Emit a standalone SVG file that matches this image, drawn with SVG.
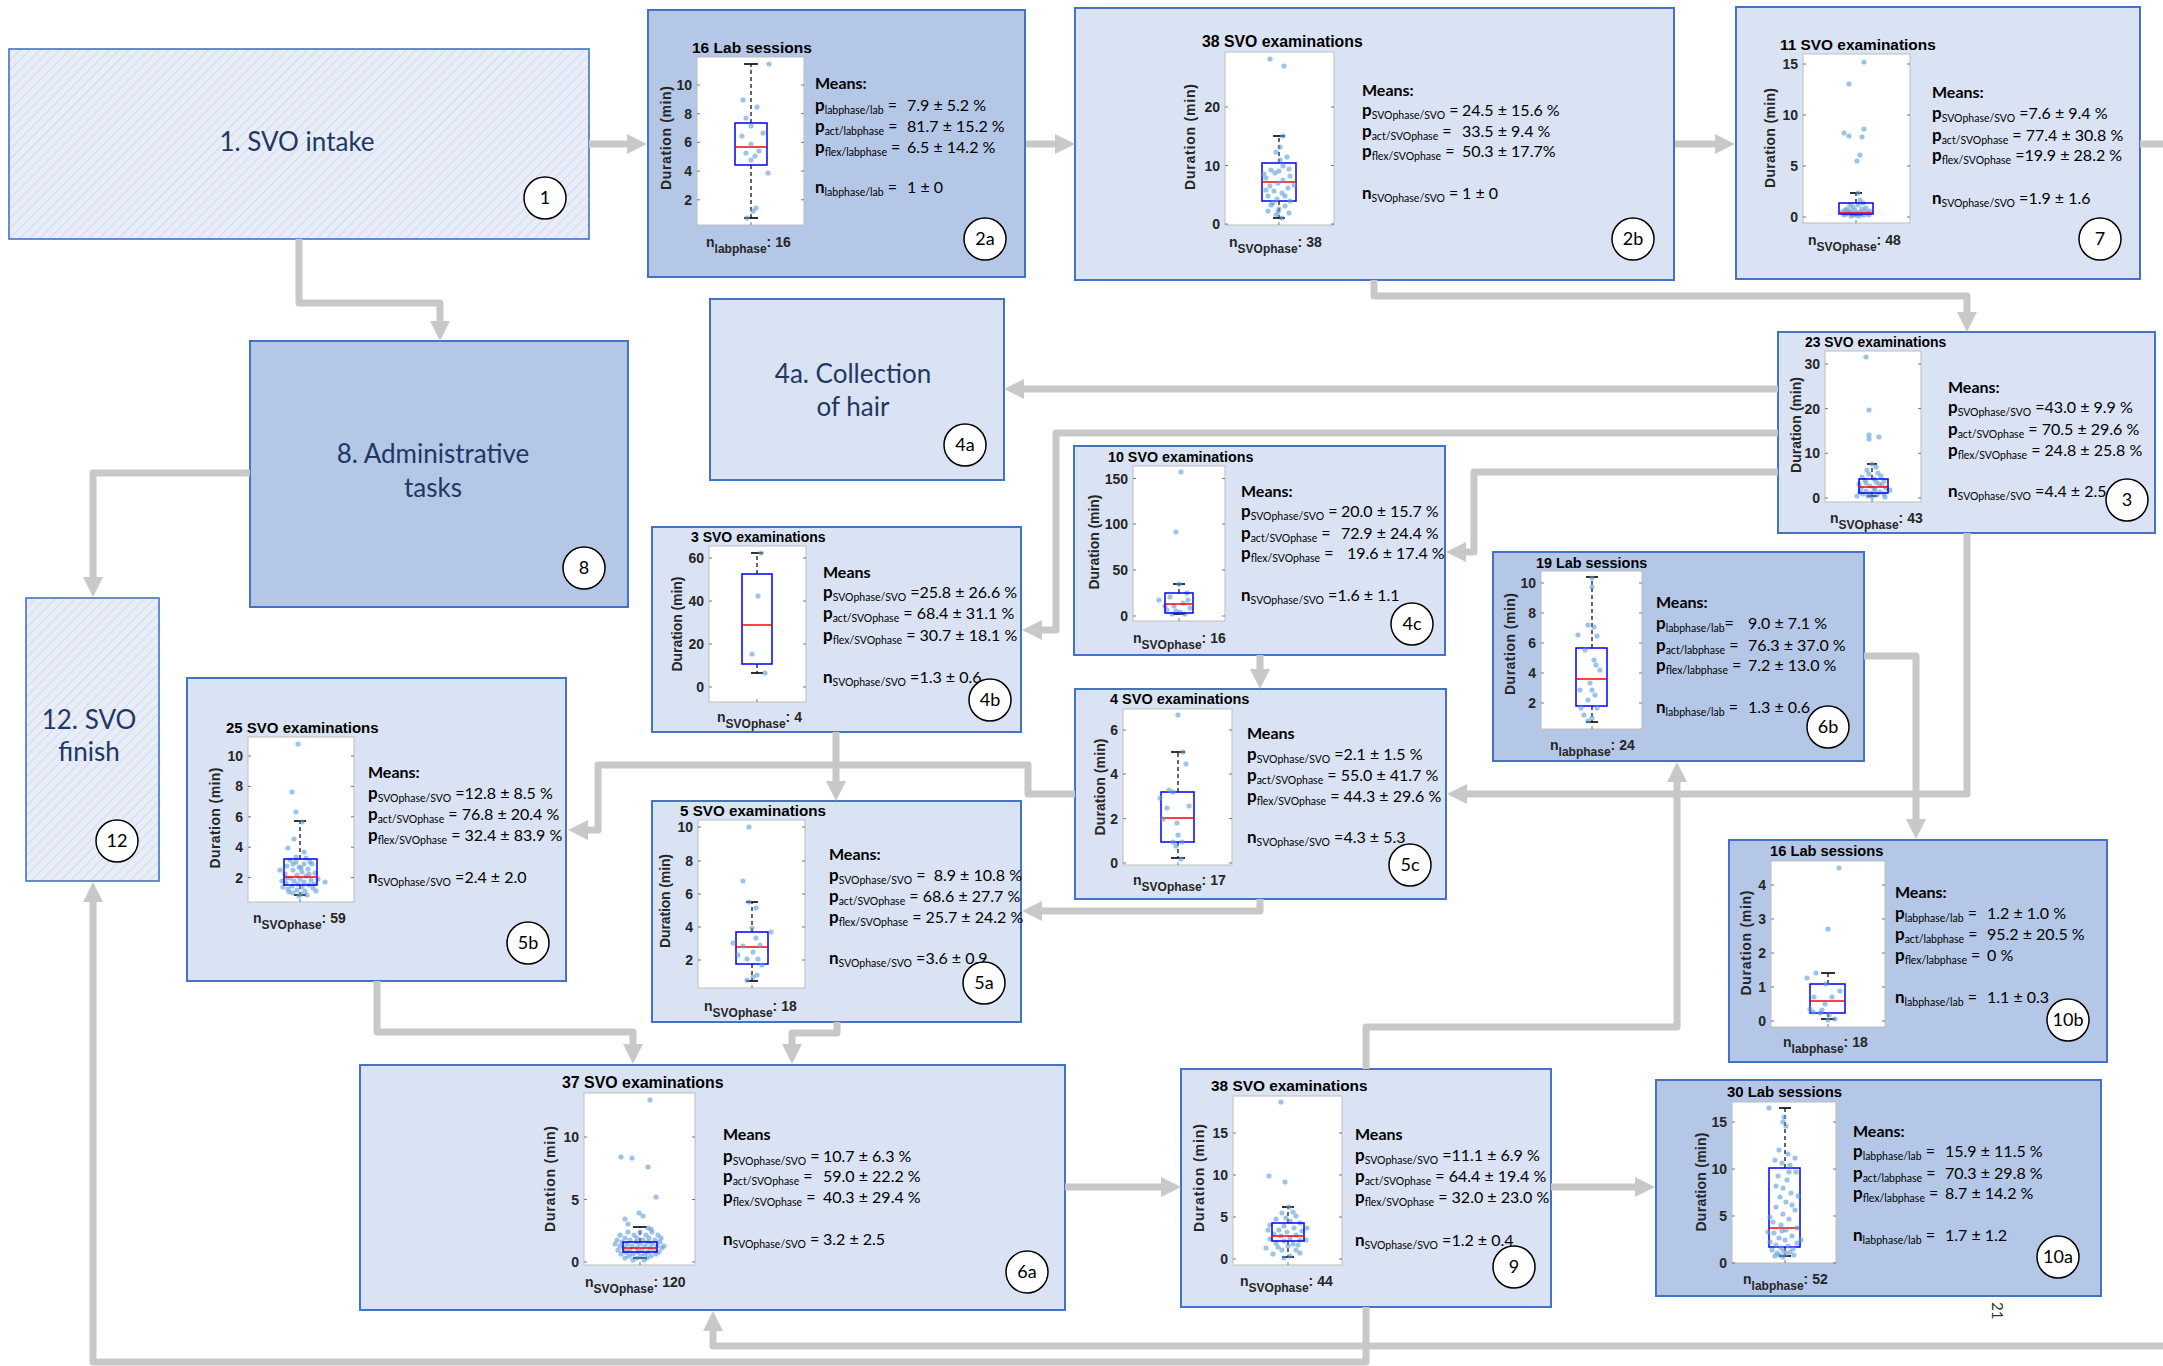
<svg xmlns="http://www.w3.org/2000/svg" width="2163" height="1366" viewBox="0 0 2163 1366">
<defs>
<pattern id="hatch" patternUnits="userSpaceOnUse" width="7" height="7" patternTransform="rotate(45)"><rect width="7" height="7" fill="#E8EDF7"/><line x1="0.5" y1="0" x2="0.5" y2="7" stroke="#D3DCEE" stroke-width="1.2"/></pattern>
<marker id="ah" markerUnits="userSpaceOnUse" markerWidth="20" markerHeight="20" refX="8" refY="10" orient="auto" viewBox="0 0 20 20"><path d="M0,0L20,10L0,20z" fill="#C8C8C8"/></marker>
<style>
.nd1{fill:#B4C7E7;stroke:#4472C4;stroke-width:2}
.nd2{fill:#DAE3F3;stroke:#4472C4;stroke-width:2}
.hat{fill:url(#hatch);stroke:#4472C4;stroke-width:1.6}
.big{font-family:Lato,"Liberation Sans",sans-serif;font-size:26px;fill:#1F3864;text-anchor:middle}
.cir{fill:#fff;stroke:#000;stroke-width:1.5}
.cl{font-family:Lato,"Liberation Sans",sans-serif;font-size:18px;fill:#000;text-anchor:middle}
.plot{fill:#fff;stroke:#BDBDBD;stroke-width:1}
.tm{stroke:#555;stroke-width:0.8;fill:none}
.tk{font-family:"Liberation Sans",Arial,sans-serif;font-weight:bold;font-size:14px;fill:#262626;text-anchor:end}
.ttl{font-family:"Liberation Sans",Arial,sans-serif;font-weight:bold;fill:#000}
.yl{font-family:"Liberation Sans",Arial,sans-serif;font-weight:bold;font-size:14px;fill:#262626;text-anchor:middle}
.nx{font-family:"Liberation Sans",Arial,sans-serif;font-weight:bold;font-size:14px;fill:#262626}
.ns{font-size:12px}
.m{font-family:Lato,"Liberation Sans",sans-serif;font-size:16px;fill:#000}
.mb{font-weight:bold}
.p{font-weight:bold;font-size:17px}
.s{font-size:10.5px}
.bx{fill:none;stroke:#0000FF;stroke-width:1.5}
.med{stroke:#FF0000;stroke-width:1.5}
.wh{stroke:#000;stroke-width:1.2;stroke-dasharray:4 3}
.cap{stroke:#000;stroke-width:1.6}
.dt{fill:#5B9BD5;fill-opacity:0.6}
.conn{fill:none;stroke:#C8C8C8;stroke-width:7;stroke-linejoin:round}
</style>
</defs>
<rect width="2163" height="1366" fill="#fff"/>

<!-- Node 1 -->
<g id="node1">
<rect class="hat" x="9" y="49" width="580" height="190"/>
<text class="big" x="297" y="151">1. SVO intake</text>
<circle class="cir" cx="545" cy="198" r="21"/><text class="cl" x="545" y="204">1</text>
</g>

<!-- Node 2a -->
<g id="node2a">
<rect class="nd1" x="648" y="10" width="377" height="267"/>
<text class="ttl" x="692" y="53" font-size="15.5">16 Lab sessions</text>
<rect class="plot" x="697" y="57" width="107" height="168"/>
<path class="tm" d="M697,199.8h3M697,171.1h3M697,142.4h3M697,113.7h3M697,85h3M804,199.8h-3M804,171.1h-3M804,142.4h-3M804,113.7h-3M804,85h-3M751,225v-3"/>
<g class="tk"><text x="692" y="204.8">2</text><text x="692" y="176.1">4</text><text x="692" y="147.4">6</text><text x="692" y="118.7">8</text><text x="692" y="90">10</text></g>
<text class="yl" transform="translate(671,138) rotate(-90)" textLength="104">Duration (min)</text>
<line class="wh" x1="751" y1="123" x2="751" y2="64"/><line class="wh" x1="751" y1="165" x2="751" y2="218"/>
<line class="cap" x1="744" y1="64" x2="758" y2="64"/><line class="cap" x1="744" y1="218" x2="758" y2="218"/>
<rect class="bx" x="735" y="123" width="32" height="42"/><line class="med" x1="735" y1="147" x2="767" y2="147"/>
<g class="dt"><circle cx="769" cy="64" r="2.6"/><circle cx="743" cy="100" r="2.6"/><circle cx="757" cy="107" r="2.6"/><circle cx="746" cy="118" r="2.6"/><circle cx="751" cy="126" r="2.6"/><circle cx="763" cy="133" r="2.6"/><circle cx="742" cy="136" r="2.6"/><circle cx="751" cy="144" r="2.6"/><circle cx="759" cy="151" r="2.6"/><circle cx="746" cy="153" r="2.6"/><circle cx="755" cy="156" r="2.6"/><circle cx="751" cy="160" r="2.6"/><circle cx="768" cy="173" r="2.6"/><circle cx="756" cy="208" r="2.6"/><circle cx="753" cy="211" r="2.6"/><circle cx="747" cy="218" r="2.6"/></g>
<text class="nx" x="706" y="247">n<tspan class="ns" dy="6">labphase</tspan><tspan dy="-6">: 16</tspan></text>
<text class="m mb" x="815" y="89">Means:</text>
<text class="m" x="815" y="111"><tspan class="p">p</tspan><tspan class="s" dy="3">labphase/lab</tspan><tspan dy="-3"> =</tspan></text>
<text class="m" x="815" y="132"><tspan class="p">p</tspan><tspan class="s" dy="3">act/labphase</tspan><tspan dy="-3"> =</tspan></text>
<text class="m" x="815" y="153"><tspan class="p">p</tspan><tspan class="s" dy="3">flex/labphase</tspan><tspan dy="-3"> =</tspan></text>
<text class="m" x="815" y="193"><tspan class="p">n</tspan><tspan class="s" dy="3">labphase/lab</tspan><tspan dy="-3"> =</tspan></text>
<text class="m" x="907" y="111">7.9 ± 5.2 %</text><text class="m" x="907" y="132">81.7 ± 15.2 %</text><text class="m" x="907" y="153">6.5 ± 14.2 %</text><text class="m" x="907" y="193">1 ± 0</text>
<circle class="cir" cx="985" cy="239" r="21"/><text class="cl" x="985" y="245">2a</text>
</g>

<!-- Node 2b -->
<g id="node2b">
<rect class="nd2" x="1075" y="8" width="599" height="272"/>
<text class="ttl" x="1202" y="47" font-size="15.8">38 SVO examinations</text>
<rect class="plot" x="1225" y="52" width="109" height="173"/>
<path class="tm" d="M1225,224h3M1225,165.5h3M1225,107h3M1334,224h-3M1334,165.5h-3M1334,107h-3M1279,225v-3"/>
<g class="tk"><text x="1220" y="229">0</text><text x="1220" y="170.5">10</text><text x="1220" y="112">20</text></g>
<text class="yl" transform="translate(1195,137) rotate(-90)" textLength="106">Duration (min)</text>
<line class="wh" x1="1279" y1="163" x2="1279" y2="136"/><line class="wh" x1="1279" y1="201" x2="1279" y2="218"/>
<line class="cap" x1="1273" y1="136" x2="1285" y2="136"/><line class="cap" x1="1273" y1="218" x2="1285" y2="218"/>
<rect class="bx" x="1262" y="163" width="34" height="38"/><line class="med" x1="1262" y1="182" x2="1296" y2="182"/>
<g class="dt"><circle cx="1270" cy="59" r="2.6"/><circle cx="1284" cy="66" r="2.6"/><circle cx="1283" cy="136" r="2.6"/><circle cx="1280" cy="147" r="2.6"/><circle cx="1276" cy="152" r="2.6"/><circle cx="1287" cy="157" r="2.6"/><circle cx="1280" cy="160" r="2.6"/><circle cx="1283" cy="166" r="2.6"/><circle cx="1289" cy="169" r="2.6"/><circle cx="1271" cy="170" r="2.6"/><circle cx="1279" cy="171" r="2.6"/><circle cx="1275" cy="173" r="2.6"/><circle cx="1264" cy="174" r="2.6"/><circle cx="1290" cy="176" r="2.6"/><circle cx="1266" cy="178" r="2.6"/><circle cx="1283" cy="180" r="2.6"/><circle cx="1278" cy="183" r="2.6"/><circle cx="1294" cy="185" r="2.6"/><circle cx="1270" cy="186" r="2.6"/><circle cx="1288" cy="188" r="2.6"/><circle cx="1266" cy="190" r="2.6"/><circle cx="1274" cy="191" r="2.6"/><circle cx="1282" cy="193" r="2.6"/><circle cx="1268" cy="196" r="2.6"/><circle cx="1285" cy="196" r="2.6"/><circle cx="1277" cy="199" r="2.6"/><circle cx="1290" cy="201" r="2.6"/><circle cx="1273" cy="203" r="2.6"/><circle cx="1271" cy="205" r="2.6"/><circle cx="1285" cy="206" r="2.6"/><circle cx="1279" cy="209" r="2.6"/><circle cx="1268" cy="211" r="2.6"/><circle cx="1278" cy="212" r="2.6"/><circle cx="1289" cy="213" r="2.6"/><circle cx="1276" cy="215" r="2.6"/><circle cx="1282" cy="218" r="2.6"/></g>
<text class="nx" x="1229" y="247">n<tspan class="ns" dy="6">SVOphase</tspan><tspan dy="-6">: 38</tspan></text>
<text class="m mb" x="1362" y="96">Means:</text>
<text class="m" x="1362" y="116"><tspan class="p">p</tspan><tspan class="s" dy="3">SVOphase/SVO</tspan><tspan dy="-3"> =</tspan></text>
<text class="m" x="1362" y="137"><tspan class="p">p</tspan><tspan class="s" dy="3">act/SVOphase</tspan><tspan dy="-3"> =</tspan></text>
<text class="m" x="1362" y="157"><tspan class="p">p</tspan><tspan class="s" dy="3">flex/SVOphase</tspan><tspan dy="-3"> =</tspan></text>
<text class="m" x="1362" y="199"><tspan class="p">n</tspan><tspan class="s" dy="3">SVOphase/SVO</tspan><tspan dy="-3"> =</tspan></text>
<text class="m" x="1462" y="116">24.5 ± 15.6 %</text><text class="m" x="1462" y="137">33.5 ± 9.4 %</text><text class="m" x="1462" y="157">50.3 ± 17.7%</text><text class="m" x="1462" y="199">1 ± 0</text>
<circle class="cir" cx="1633" cy="239" r="21"/><text class="cl" x="1633" y="245">2b</text>
</g>

<!-- Node 7 -->
<g id="node7">
<rect class="nd2" x="1736" y="7" width="404" height="272"/>
<text class="ttl" x="1780" y="50" font-size="15.4">11 SVO examinations</text>
<rect class="plot" x="1803" y="54" width="107" height="169"/>
<path class="tm" d="M1803,217h3M1803,166h3M1803,115h3M1803,64h3M1910,217h-3M1910,166h-3M1910,115h-3M1910,64h-3M1856,223v-3"/>
<g class="tk"><text x="1798" y="222">0</text><text x="1798" y="171">5</text><text x="1798" y="120">10</text><text x="1798" y="69">15</text></g>
<text class="yl" transform="translate(1775,138) rotate(-90)" textLength="100">Duration (min)</text>
<line class="wh" x1="1856" y1="203" x2="1856" y2="193"/>
<line class="cap" x1="1850" y1="193" x2="1862" y2="193"/><line class="cap" x1="1850" y1="215" x2="1862" y2="215"/>
<g class="dt"><circle cx="1864" cy="62" r="2.6"/><circle cx="1849" cy="84" r="2.6"/><circle cx="1864" cy="129" r="2.6"/><circle cx="1844" cy="133" r="2.6"/><circle cx="1849" cy="136" r="2.6"/><circle cx="1862" cy="137" r="2.6"/><circle cx="1860" cy="155" r="2.6"/><circle cx="1857" cy="161" r="2.6"/><circle cx="1858" cy="193" r="2.6"/><circle cx="1860" cy="200" r="2.6"/><circle cx="1863" cy="203" r="2.6"/><circle cx="1850" cy="205" r="2.6"/><circle cx="1858" cy="205" r="2.6"/><circle cx="1853" cy="207" r="2.6"/><circle cx="1866" cy="208" r="2.6"/><circle cx="1847" cy="209" r="2.6"/><circle cx="1862" cy="209" r="2.6"/><circle cx="1845" cy="210" r="2.6"/><circle cx="1855" cy="210" r="2.6"/><circle cx="1850" cy="211" r="2.6"/><circle cx="1870" cy="211" r="2.6"/><circle cx="1842" cy="212" r="2.6"/><circle cx="1860" cy="212" r="2.6"/><circle cx="1865" cy="212" r="2.6"/><circle cx="1848" cy="213" r="2.6"/><circle cx="1852" cy="213" r="2.6"/><circle cx="1857" cy="213" r="2.6"/><circle cx="1868" cy="213" r="2.6"/><circle cx="1846" cy="214" r="2.6"/><circle cx="1861" cy="214" r="2.6"/><circle cx="1844" cy="215" r="2.6"/><circle cx="1853" cy="215" r="2.6"/><circle cx="1856" cy="215" r="2.6"/><circle cx="1864" cy="215" r="2.6"/><circle cx="1869" cy="215" r="2.6"/><circle cx="1851" cy="216" r="2.6"/><circle cx="1859" cy="216" r="2.6"/></g>
<rect class="bx" x="1839" y="203" width="34" height="11"/><line class="med" x1="1839" y1="213" x2="1873" y2="213"/>
<text class="nx" x="1808" y="245">n<tspan class="ns" dy="6">SVOphase</tspan><tspan dy="-6">: 48</tspan></text>
<text class="m mb" x="1932" y="98">Means:</text>
<text class="m" x="1932" y="119"><tspan class="p">p</tspan><tspan class="s" dy="3">SVOphase/SVO</tspan><tspan dy="-3"> =7.6 ± 9.4 %</tspan></text>
<text class="m" x="1932" y="141"><tspan class="p">p</tspan><tspan class="s" dy="3">act/SVOphase</tspan><tspan dy="-3"> = 77.4 ± 30.8 %</tspan></text>
<text class="m" x="1932" y="161"><tspan class="p">p</tspan><tspan class="s" dy="3">flex/SVOphase</tspan><tspan dy="-3"> =19.9 ± 28.2 %</tspan></text>
<text class="m" x="1932" y="204"><tspan class="p">n</tspan><tspan class="s" dy="3">SVOphase/SVO</tspan><tspan dy="-3"> =1.9 ± 1.6</tspan></text>
<circle class="cir" cx="2100" cy="239" r="21"/><text class="cl" x="2100" y="245">7</text>
</g>

<!-- Node 3 -->
<g id="node3">
<rect class="nd2" x="1778" y="332" width="377" height="201"/>
<text class="ttl" x="1805" y="347" font-size="13.9">23 SVO examinations</text>
<rect class="plot" x="1825" y="351" width="96" height="151"/>
<path class="tm" d="M1825,498h3M1825,453.3h3M1825,408.6h3M1825,363.9h3M1921,498h-3M1921,453.3h-3M1921,408.6h-3M1921,363.9h-3M1872,502v-3"/>
<g class="tk"><text x="1820" y="503">0</text><text x="1820" y="458.3">10</text><text x="1820" y="413.6">20</text><text x="1820" y="368.9">30</text></g>
<text class="yl" transform="translate(1801,425) rotate(-90)" textLength="96">Duration (min)</text>
<line class="wh" x1="1872" y1="479" x2="1872" y2="464"/><line class="wh" x1="1872" y1="493" x2="1872" y2="496"/>
<line class="cap" x1="1867" y1="464" x2="1877" y2="464"/><line class="cap" x1="1867" y1="496" x2="1877" y2="496"/>
<g class="dt"><circle cx="1866" cy="357" r="2.6"/><circle cx="1869" cy="410" r="2.6"/><circle cx="1869" cy="435" r="2.6"/><circle cx="1879" cy="437" r="2.6"/><circle cx="1869" cy="439" r="2.6"/><circle cx="1872" cy="464" r="2.6"/><circle cx="1876" cy="467" r="2.6"/><circle cx="1867" cy="470" r="2.6"/><circle cx="1878" cy="473" r="2.6"/><circle cx="1869" cy="474" r="2.6"/><circle cx="1881" cy="476" r="2.6"/><circle cx="1862" cy="477" r="2.6"/><circle cx="1874" cy="479" r="2.6"/><circle cx="1865" cy="480" r="2.6"/><circle cx="1884" cy="481" r="2.6"/><circle cx="1876" cy="482" r="2.6"/><circle cx="1866" cy="483" r="2.6"/><circle cx="1879" cy="484" r="2.6"/><circle cx="1859" cy="484" r="2.6"/><circle cx="1882" cy="485" r="2.6"/><circle cx="1870" cy="486" r="2.6"/><circle cx="1861" cy="488" r="2.6"/><circle cx="1874" cy="488" r="2.6"/><circle cx="1886" cy="488" r="2.6"/><circle cx="1875" cy="490" r="2.6"/><circle cx="1890" cy="490" r="2.6"/><circle cx="1866" cy="491" r="2.6"/><circle cx="1880" cy="492" r="2.6"/><circle cx="1860" cy="492" r="2.6"/><circle cx="1871" cy="493" r="2.6"/><circle cx="1863" cy="494" r="2.6"/><circle cx="1884" cy="494" r="2.6"/><circle cx="1877" cy="495" r="2.6"/><circle cx="1868" cy="496" r="2.6"/><circle cx="1857" cy="496" r="2.6"/><circle cx="1872" cy="497" r="2.6"/><circle cx="1885" cy="497" r="2.6"/></g>
<rect class="bx" x="1859" y="479" width="29" height="14"/><line class="med" x1="1859" y1="487" x2="1888" y2="487"/>
<text class="nx" x="1830" y="523">n<tspan class="ns" dy="6">SVOphase</tspan><tspan dy="-6">: 43</tspan></text>
<text class="m mb" x="1948" y="393">Means:</text>
<text class="m" x="1948" y="413"><tspan class="p">p</tspan><tspan class="s" dy="3">SVOphase/SVO</tspan><tspan dy="-3"> =43.0 ± 9.9 %</tspan></text>
<text class="m" x="1948" y="435"><tspan class="p">p</tspan><tspan class="s" dy="3">act/SVOphase</tspan><tspan dy="-3"> = 70.5 ± 29.6 %</tspan></text>
<text class="m" x="1948" y="456"><tspan class="p">p</tspan><tspan class="s" dy="3">flex/SVOphase</tspan><tspan dy="-3"> = 24.8 ± 25.8 %</tspan></text>
<text class="m" x="1948" y="497"><tspan class="p">n</tspan><tspan class="s" dy="3">SVOphase/SVO</tspan><tspan dy="-3"> =4.4 ± 2.5</tspan></text>
<circle class="cir" cx="2127" cy="500" r="21"/><text class="cl" x="2127" y="506">3</text>
</g>

<!-- Node 4a -->
<g id="node4a">
<rect class="nd2" x="710" y="299" width="294" height="181"/>
<text class="big" x="853" y="383">4a. Collection</text>
<text class="big" x="853" y="416">of hair</text>
<circle class="cir" cx="965" cy="445" r="21"/><text class="cl" x="965" y="451">4a</text>
</g>

<!-- Node 8 -->
<g id="node8">
<rect class="nd1" x="250" y="341" width="378" height="266"/>
<text class="big" x="433" y="463">8. Administrative</text>
<text class="big" x="433" y="497">tasks</text>
<circle class="cir" cx="584" cy="568" r="21"/><text class="cl" x="584" y="574">8</text>
</g>

<!-- Node 4c -->
<g id="node4c">
<rect class="nd2" x="1074" y="446" width="371" height="209"/>
<text class="ttl" x="1108" y="462" font-size="14.3">10 SVO examinations</text>
<rect class="plot" x="1133" y="466" width="92" height="155"/>
<path class="tm" d="M1133,616h3M1133,570h3M1133,524h3M1133,478.5h3M1225,616h-3M1225,570h-3M1225,524h-3M1225,478.5h-3M1179,621v-3"/>
<g class="tk"><text x="1128" y="621">0</text><text x="1128" y="575">50</text><text x="1128" y="529">100</text><text x="1128" y="483.5">150</text></g>
<text class="yl" transform="translate(1099,542) rotate(-90)" textLength="95">Duration (min)</text>
<line class="wh" x1="1179" y1="593" x2="1179" y2="584"/>
<line class="cap" x1="1173" y1="584" x2="1185" y2="584"/><line class="cap" x1="1173" y1="614" x2="1185" y2="614"/>
<g class="dt"><circle cx="1181" cy="472" r="2.6"/><circle cx="1176" cy="532" r="2.6"/><circle cx="1179" cy="584" r="2.6"/><circle cx="1187" cy="593" r="2.6"/><circle cx="1170" cy="597" r="2.6"/><circle cx="1159" cy="600" r="2.6"/><circle cx="1188" cy="600" r="2.6"/><circle cx="1183" cy="603" r="2.6"/><circle cx="1174" cy="606" r="2.6"/><circle cx="1165" cy="606" r="2.6"/><circle cx="1190" cy="608" r="2.6"/><circle cx="1167" cy="610" r="2.6"/><circle cx="1176" cy="611" r="2.6"/><circle cx="1180" cy="612" r="2.6"/><circle cx="1185" cy="614" r="2.6"/><circle cx="1172" cy="614" r="2.6"/></g>
<rect class="bx" x="1165" y="593" width="28" height="20"/><line class="med" x1="1165" y1="604" x2="1193" y2="604"/>
<text class="nx" x="1133" y="643">n<tspan class="ns" dy="6">SVOphase</tspan><tspan dy="-6">: 16</tspan></text>
<text class="m mb" x="1241" y="497">Means:</text>
<text class="m" x="1241" y="517"><tspan class="p">p</tspan><tspan class="s" dy="3">SVOphase/SVO</tspan><tspan dy="-3"> =</tspan></text>
<text class="m" x="1241" y="539"><tspan class="p">p</tspan><tspan class="s" dy="3">act/SVOphase</tspan><tspan dy="-3"> =</tspan></text>
<text class="m" x="1241" y="559"><tspan class="p">p</tspan><tspan class="s" dy="3">flex/SVOphase</tspan><tspan dy="-3"> =</tspan></text>
<text class="m" x="1241" y="601"><tspan class="p">n</tspan><tspan class="s" dy="3">SVOphase/SVO</tspan><tspan dy="-3"> =1.6 ± 1.1</tspan></text>
<text class="m" x="1341" y="517">20.0 ± 15.7 %</text><text class="m" x="1341" y="539">72.9 ± 24.4 %</text><text class="m" x="1347" y="559">19.6 ± 17.4 %</text>
<circle class="cir" cx="1412" cy="624" r="21"/><text class="cl" x="1412" y="630">4c</text>
</g>

<!-- Node 4b -->
<g id="node4b">
<rect class="nd2" x="652" y="527" width="369" height="205"/>
<text class="ttl" x="691" y="542" font-size="14">3 SVO examinations</text>
<rect class="plot" x="709" y="546" width="97" height="156"/>
<path class="tm" d="M709,687h3M709,644h3M709,601h3M709,558h3M806,687h-3M806,644h-3M806,601h-3M806,558h-3M757,702v-3"/>
<g class="tk"><text x="704" y="692">0</text><text x="704" y="649">20</text><text x="704" y="606">40</text><text x="704" y="563">60</text></g>
<text class="yl" transform="translate(682,624) rotate(-90)" textLength="95">Duration (min)</text>
<line class="wh" x1="757" y1="574" x2="757" y2="553"/><line class="wh" x1="757" y1="664" x2="757" y2="673"/>
<line class="cap" x1="751" y1="553" x2="763" y2="553"/><line class="cap" x1="751" y1="673" x2="763" y2="673"/>
<rect class="bx" x="742" y="574" width="30" height="90"/><line class="med" x1="742" y1="625" x2="772" y2="625"/>
<g class="dt"><circle cx="761" cy="553" r="2.6"/><circle cx="758" cy="596" r="2.6"/><circle cx="752" cy="654" r="2.6"/><circle cx="765" cy="673" r="2.6"/></g>
<text class="nx" x="717" y="722">n<tspan class="ns" dy="6">SVOphase</tspan><tspan dy="-6">: 4</tspan></text>
<text class="m mb" x="823" y="578">Means</text>
<text class="m" x="823" y="598"><tspan class="p">p</tspan><tspan class="s" dy="3">SVOphase/SVO</tspan><tspan dy="-3"> =25.8 ± 26.6 %</tspan></text>
<text class="m" x="823" y="619"><tspan class="p">p</tspan><tspan class="s" dy="3">act/SVOphase</tspan><tspan dy="-3"> = 68.4 ± 31.1 %</tspan></text>
<text class="m" x="823" y="641"><tspan class="p">p</tspan><tspan class="s" dy="3">flex/SVOphase</tspan><tspan dy="-3"> = 30.7 ± 18.1 %</tspan></text>
<text class="m" x="823" y="683"><tspan class="p">n</tspan><tspan class="s" dy="3">SVOphase/SVO</tspan><tspan dy="-3"> =1.3 ± 0.6</tspan></text>
<circle class="cir" cx="990" cy="700" r="21"/><text class="cl" x="990" y="706">4b</text>
</g>

<!-- Node 12 -->
<g id="node12">
<rect class="hat" x="26" y="598" width="133" height="283"/>
<text class="big" x="89" y="729" font-size="25">12. SVO</text>
<text class="big" x="89" y="761" font-size="25">finish</text>
<circle class="cir" cx="117" cy="841" r="21"/><text class="cl" x="117" y="847" font-size="16">12</text>
</g>

<!-- Node 6b -->
<g id="node6b">
<rect class="nd1" x="1493" y="552" width="371" height="209"/>
<text class="ttl" x="1536" y="568" font-size="14.4">19 Lab sessions</text>
<rect class="plot" x="1541" y="571" width="101" height="158"/>
<path class="tm" d="M1541,703h3M1541,673h3M1541,643h3M1541,613h3M1541,583h3M1642,703h-3M1642,673h-3M1642,643h-3M1642,613h-3M1642,583h-3M1592,729v-3"/>
<g class="tk"><text x="1536" y="708">2</text><text x="1536" y="678">4</text><text x="1536" y="648">6</text><text x="1536" y="618">8</text><text x="1536" y="588">10</text></g>
<text class="yl" transform="translate(1515,644) rotate(-90)" textLength="102">Duration (min)</text>
<line class="wh" x1="1592" y1="648" x2="1592" y2="577"/><line class="wh" x1="1592" y1="706" x2="1592" y2="722"/>
<line class="cap" x1="1586" y1="577" x2="1598" y2="577"/><line class="cap" x1="1586" y1="722" x2="1598" y2="722"/>
<rect class="bx" x="1576" y="648" width="31" height="58"/><line class="med" x1="1576" y1="679" x2="1607" y2="679"/>
<g class="dt"><circle cx="1592" cy="578" r="2.6"/><circle cx="1592" cy="587" r="2.6"/><circle cx="1588" cy="625" r="2.6"/><circle cx="1594" cy="627" r="2.6"/><circle cx="1578" cy="635" r="2.6"/><circle cx="1597" cy="636" r="2.6"/><circle cx="1585" cy="650" r="2.6"/><circle cx="1594" cy="660" r="2.6"/><circle cx="1596" cy="665" r="2.6"/><circle cx="1600" cy="670" r="2.6"/><circle cx="1590" cy="683" r="2.6"/><circle cx="1592" cy="690" r="2.6"/><circle cx="1580" cy="690" r="2.6"/><circle cx="1595" cy="695" r="2.6"/><circle cx="1588" cy="700" r="2.6"/><circle cx="1581" cy="708" r="2.6"/><circle cx="1597" cy="708" r="2.6"/><circle cx="1584" cy="715" r="2.6"/><circle cx="1592" cy="718" r="2.6"/><circle cx="1588" cy="721" r="2.6"/></g>
<text class="nx" x="1550" y="750">n<tspan class="ns" dy="6">labphase</tspan><tspan dy="-6">: 24</tspan></text>
<text class="m mb" x="1656" y="608">Means:</text>
<text class="m" x="1656" y="629"><tspan class="p">p</tspan><tspan class="s" dy="3">labphase/lab</tspan><tspan dy="-3">=</tspan></text>
<text class="m" x="1656" y="651"><tspan class="p">p</tspan><tspan class="s" dy="3">act/labphase</tspan><tspan dy="-3"> =</tspan></text>
<text class="m" x="1656" y="671"><tspan class="p">p</tspan><tspan class="s" dy="3">flex/labphase</tspan><tspan dy="-3"> =</tspan></text>
<text class="m" x="1656" y="713"><tspan class="p">n</tspan><tspan class="s" dy="3">labphase/lab</tspan><tspan dy="-3"> =</tspan></text>
<text class="m" x="1748" y="629">9.0 ± 7.1 %</text><text class="m" x="1748" y="651">76.3 ± 37.0 %</text><text class="m" x="1748" y="671">7.2 ± 13.0 %</text><text class="m" x="1748" y="713">1.3 ± 0.6</text>
<circle class="cir" cx="1828" cy="727" r="21"/><text class="cl" x="1828" y="733">6b</text>
</g>

<!-- Node 5b -->
<g id="node5b">
<rect class="nd2" x="187" y="678" width="379" height="303"/>
<text class="ttl" x="226" y="733" font-size="15">25 SVO examinations</text>
<rect class="plot" x="248" y="737" width="106" height="165"/>
<path class="tm" d="M248,877.6h3M248,847.2h3M248,816.8h3M248,786.4h3M248,756h3M354,877.6h-3M354,847.2h-3M354,816.8h-3M354,786.4h-3M354,756h-3M300,902v-3"/>
<g class="tk"><text x="243" y="882.6">2</text><text x="243" y="852.2">4</text><text x="243" y="821.8">6</text><text x="243" y="791.4">8</text><text x="243" y="761">10</text></g>
<text class="yl" transform="translate(220,818) rotate(-90)" textLength="101">Duration (min)</text>
<line class="wh" x1="300" y1="859" x2="300" y2="821"/><line class="wh" x1="300" y1="885" x2="300" y2="895"/>
<line class="cap" x1="294" y1="821" x2="306" y2="821"/><line class="cap" x1="294" y1="895" x2="306" y2="895"/>
<g class="dt"><circle cx="298" cy="744" r="2.6"/><circle cx="292" cy="792" r="2.6"/><circle cx="296" cy="812" r="2.6"/><circle cx="302" cy="822" r="2.6"/><circle cx="294" cy="839" r="2.6"/><circle cx="288" cy="848" r="2.6"/><circle cx="304" cy="852" r="2.6"/><circle cx="296" cy="857" r="2.6"/><circle cx="306" cy="858" r="2.6"/><circle cx="290" cy="860" r="2.6"/><circle cx="296" cy="862" r="2.6"/><circle cx="310" cy="862" r="2.6"/><circle cx="312" cy="864" r="2.6"/><circle cx="293" cy="864" r="2.6"/><circle cx="304" cy="864" r="2.6"/><circle cx="287" cy="866" r="2.6"/><circle cx="299" cy="867" r="2.6"/><circle cx="301" cy="868" r="2.6"/><circle cx="308" cy="869" r="2.6"/><circle cx="280" cy="870" r="2.6"/><circle cx="293" cy="870" r="2.6"/><circle cx="302" cy="872" r="2.6"/><circle cx="315" cy="873" r="2.6"/><circle cx="285" cy="874" r="2.6"/><circle cx="309" cy="874" r="2.6"/><circle cx="297" cy="875" r="2.6"/><circle cx="306" cy="876" r="2.6"/><circle cx="290" cy="878" r="2.6"/><circle cx="286" cy="878" r="2.6"/><circle cx="300" cy="879" r="2.6"/><circle cx="318" cy="879" r="2.6"/><circle cx="311" cy="880" r="2.6"/><circle cx="294" cy="881" r="2.6"/><circle cx="282" cy="881" r="2.6"/><circle cx="304" cy="882" r="2.6"/><circle cx="325" cy="882" r="2.6"/><circle cx="286" cy="883" r="2.6"/><circle cx="298" cy="884" r="2.6"/><circle cx="314" cy="884" r="2.6"/><circle cx="309" cy="885" r="2.6"/><circle cx="292" cy="886" r="2.6"/><circle cx="302" cy="887" r="2.6"/><circle cx="283" cy="887" r="2.6"/><circle cx="313" cy="888" r="2.6"/><circle cx="288" cy="889" r="2.6"/><circle cx="297" cy="890" r="2.6"/><circle cx="305" cy="891" r="2.6"/><circle cx="316" cy="891" r="2.6"/><circle cx="289" cy="892" r="2.6"/><circle cx="293" cy="893" r="2.6"/><circle cx="301" cy="894" r="2.6"/><circle cx="307" cy="895" r="2.6"/><circle cx="299" cy="896" r="2.6"/></g>
<rect class="bx" x="284" y="859" width="33" height="26"/><line class="med" x1="284" y1="877" x2="317" y2="877"/>
<text class="nx" x="253" y="923">n<tspan class="ns" dy="6">SVOphase</tspan><tspan dy="-6">: 59</tspan></text>
<text class="m mb" x="368" y="778">Means:</text>
<text class="m" x="368" y="799"><tspan class="p">p</tspan><tspan class="s" dy="3">SVOphase/SVO</tspan><tspan dy="-3"> =12.8 ± 8.5 %</tspan></text>
<text class="m" x="368" y="820"><tspan class="p">p</tspan><tspan class="s" dy="3">act/SVOphase</tspan><tspan dy="-3"> = 76.8 ± 20.4 %</tspan></text>
<text class="m" x="368" y="841"><tspan class="p">p</tspan><tspan class="s" dy="3">flex/SVOphase</tspan><tspan dy="-3"> = 32.4 ± 83.9 %</tspan></text>
<text class="m" x="368" y="883"><tspan class="p">n</tspan><tspan class="s" dy="3">SVOphase/SVO</tspan><tspan dy="-3"> =2.4 ± 2.0</tspan></text>
<circle class="cir" cx="528" cy="943" r="21"/><text class="cl" x="528" y="949">5b</text>
</g>

<!-- Node 5c -->
<g id="node5c">
<rect class="nd2" x="1075" y="689" width="371" height="210"/>
<text class="ttl" x="1110" y="704" font-size="14.5">4 SVO examinations</text>
<rect class="plot" x="1123" y="709" width="109" height="156"/>
<path class="tm" d="M1123,863h3M1123,818.6h3M1123,774h3M1123,730h3M1232,863h-3M1232,818.6h-3M1232,774h-3M1232,730h-3M1178,865v-3"/>
<g class="tk"><text x="1118" y="868">0</text><text x="1118" y="823.6">2</text><text x="1118" y="779">4</text><text x="1118" y="735">6</text></g>
<text class="yl" transform="translate(1105,787) rotate(-90)" textLength="97">Duration (min)</text>
<line class="wh" x1="1178" y1="792" x2="1178" y2="752"/><line class="wh" x1="1178" y1="842" x2="1178" y2="858"/>
<line class="cap" x1="1171" y1="752" x2="1185" y2="752"/><line class="cap" x1="1171" y1="858" x2="1185" y2="858"/>
<rect class="bx" x="1161" y="792" width="33" height="50"/><line class="med" x1="1161" y1="818" x2="1194" y2="818"/>
<g class="dt"><circle cx="1178" cy="715" r="2.6"/><circle cx="1183" cy="752" r="2.6"/><circle cx="1186" cy="764" r="2.6"/><circle cx="1169" cy="790" r="2.6"/><circle cx="1173" cy="792" r="2.6"/><circle cx="1160" cy="798" r="2.6"/><circle cx="1167" cy="808" r="2.6"/><circle cx="1189" cy="806" r="2.6"/><circle cx="1163" cy="819" r="2.6"/><circle cx="1177" cy="823" r="2.6"/><circle cx="1178" cy="835" r="2.6"/><circle cx="1173" cy="842" r="2.6"/><circle cx="1182" cy="842" r="2.6"/><circle cx="1176" cy="846" r="2.6"/><circle cx="1181" cy="859" r="2.6"/></g>
<text class="nx" x="1133" y="885">n<tspan class="ns" dy="6">SVOphase</tspan><tspan dy="-6">: 17</tspan></text>
<text class="m mb" x="1247" y="739">Means</text>
<text class="m" x="1247" y="760"><tspan class="p">p</tspan><tspan class="s" dy="3">SVOphase/SVO</tspan><tspan dy="-3"> =2.1 ± 1.5 %</tspan></text>
<text class="m" x="1247" y="781"><tspan class="p">p</tspan><tspan class="s" dy="3">act/SVOphase</tspan><tspan dy="-3"> = 55.0 ± 41.7 %</tspan></text>
<text class="m" x="1247" y="802"><tspan class="p">p</tspan><tspan class="s" dy="3">flex/SVOphase</tspan><tspan dy="-3"> = 44.3 ± 29.6 %</tspan></text>
<text class="m" x="1247" y="843"><tspan class="p">n</tspan><tspan class="s" dy="3">SVOphase/SVO</tspan><tspan dy="-3"> =4.3 ± 5.3</tspan></text>
<circle class="cir" cx="1410" cy="865" r="21"/><text class="cl" x="1410" y="871">5c</text>
</g>

<!-- Node 5a -->
<g id="node5a">
<rect class="nd2" x="652" y="801" width="369" height="221"/>
<text class="ttl" x="680" y="816" font-size="15.2">5 SVO examinations</text>
<rect class="plot" x="698" y="820" width="107" height="168"/>
<path class="tm" d="M698,960h3M698,927h3M698,894h3M698,861h3M698,827h3M805,960h-3M805,927h-3M805,894h-3M805,861h-3M805,827h-3M752,988v-3"/>
<g class="tk"><text x="693" y="965">2</text><text x="693" y="932">4</text><text x="693" y="899">6</text><text x="693" y="866">8</text><text x="693" y="832">10</text></g>
<text class="yl" transform="translate(670,901) rotate(-90)" textLength="94">Duration (min)</text>
<line class="wh" x1="752" y1="932" x2="752" y2="902"/><line class="wh" x1="752" y1="964" x2="752" y2="981"/>
<line class="cap" x1="746" y1="902" x2="758" y2="902"/><line class="cap" x1="746" y1="981" x2="758" y2="981"/>
<rect class="bx" x="736" y="932" width="32" height="32"/><line class="med" x1="736" y1="947" x2="768" y2="947"/>
<g class="dt"><circle cx="749" cy="827" r="2.6"/><circle cx="743" cy="881" r="2.6"/><circle cx="749" cy="902" r="2.6"/><circle cx="756" cy="908" r="2.6"/><circle cx="752" cy="928" r="2.6"/><circle cx="771" cy="932" r="2.6"/><circle cx="756" cy="938" r="2.6"/><circle cx="733" cy="943" r="2.6"/><circle cx="760" cy="945" r="2.6"/><circle cx="743" cy="946" r="2.6"/><circle cx="753" cy="952" r="2.6"/><circle cx="738" cy="955" r="2.6"/><circle cx="747" cy="959" r="2.6"/><circle cx="758" cy="959" r="2.6"/><circle cx="762" cy="965" r="2.6"/><circle cx="757" cy="975" r="2.6"/><circle cx="753" cy="977" r="2.6"/><circle cx="747" cy="980" r="2.6"/></g>
<text class="nx" x="704" y="1011">n<tspan class="ns" dy="6">SVOphase</tspan><tspan dy="-6">: 18</tspan></text>
<text class="m mb" x="829" y="860">Means:</text>
<text class="m" x="829" y="881"><tspan class="p">p</tspan><tspan class="s" dy="3">SVOphase/SVO</tspan><tspan dy="-3"> =&#160; 8.9 ± 10.8 %</tspan></text>
<text class="m" x="829" y="902"><tspan class="p">p</tspan><tspan class="s" dy="3">act/SVOphase</tspan><tspan dy="-3"> = 68.6 ± 27.7 %</tspan></text>
<text class="m" x="829" y="923"><tspan class="p">p</tspan><tspan class="s" dy="3">flex/SVOphase</tspan><tspan dy="-3"> = 25.7 ± 24.2 %</tspan></text>
<text class="m" x="829" y="964"><tspan class="p">n</tspan><tspan class="s" dy="3">SVOphase/SVO</tspan><tspan dy="-3"> =3.6 ± 0.9</tspan></text>
<circle class="cir" cx="984" cy="983" r="21"/><text class="cl" x="984" y="989">5a</text>
</g>

<!-- Node 10b -->
<g id="node10b">
<rect class="nd1" x="1729" y="840" width="378" height="222"/>
<text class="ttl" x="1770" y="856" font-size="14.7">16 Lab sessions</text>
<rect class="plot" x="1771" y="861" width="114" height="166"/>
<path class="tm" d="M1771,1021h3M1771,987h3M1771,953h3M1771,919h3M1771,885h3M1885,1021h-3M1885,987h-3M1885,953h-3M1885,919h-3M1885,885h-3M1828,1027v-3"/>
<g class="tk"><text x="1766" y="1026">0</text><text x="1766" y="992">1</text><text x="1766" y="958">2</text><text x="1766" y="924">3</text><text x="1766" y="890">4</text></g>
<text class="yl" transform="translate(1751,943) rotate(-90)" textLength="105">Duration (min)</text>
<line class="wh" x1="1828" y1="984" x2="1828" y2="973"/><line class="wh" x1="1828" y1="1013" x2="1828" y2="1019"/>
<line class="cap" x1="1821" y1="973" x2="1835" y2="973"/><line class="cap" x1="1821" y1="1019" x2="1835" y2="1019"/>
<rect class="bx" x="1810" y="984" width="35" height="29"/><line class="med" x1="1810" y1="1001" x2="1845" y2="1001"/>
<g class="dt"><circle cx="1839" cy="868" r="2.6"/><circle cx="1828" cy="929" r="2.6"/><circle cx="1816" cy="973" r="2.6"/><circle cx="1807" cy="978" r="2.6"/><circle cx="1826" cy="984" r="2.6"/><circle cx="1840" cy="991" r="2.6"/><circle cx="1814" cy="997" r="2.6"/><circle cx="1832" cy="997" r="2.6"/><circle cx="1825" cy="1004" r="2.6"/><circle cx="1810" cy="1009" r="2.6"/><circle cx="1822" cy="1010" r="2.6"/><circle cx="1813" cy="1012" r="2.6"/><circle cx="1820" cy="1013" r="2.6"/><circle cx="1829" cy="1015" r="2.6"/><circle cx="1835" cy="1019" r="2.6"/><circle cx="1828" cy="1020" r="2.6"/></g>
<text class="nx" x="1783" y="1047">n<tspan class="ns" dy="6">labphase</tspan><tspan dy="-6">: 18</tspan></text>
<text class="m mb" x="1895" y="898">Means:</text>
<text class="m" x="1895" y="919"><tspan class="p">p</tspan><tspan class="s" dy="3">labphase/lab</tspan><tspan dy="-3"> =</tspan></text>
<text class="m" x="1895" y="940"><tspan class="p">p</tspan><tspan class="s" dy="3">act/labphase</tspan><tspan dy="-3"> =</tspan></text>
<text class="m" x="1895" y="961"><tspan class="p">p</tspan><tspan class="s" dy="3">flex/labphase</tspan><tspan dy="-3"> =</tspan></text>
<text class="m" x="1895" y="1003"><tspan class="p">n</tspan><tspan class="s" dy="3">labphase/lab</tspan><tspan dy="-3"> =</tspan></text>
<text class="m" x="1987" y="919">1.2 ± 1.0 %</text><text class="m" x="1987" y="940">95.2 ± 20.5 %</text><text class="m" x="1987" y="961">0 %</text><text class="m" x="1987" y="1003">1.1 ± 0.3</text>
<circle class="cir" cx="2068" cy="1020" r="21"/><text class="cl" x="2068" y="1026">10b</text>
</g>

<!-- Node 6a -->
<g id="node6a">
<rect class="nd2" x="360" y="1065" width="705" height="245"/>
<text class="ttl" x="562" y="1088" font-size="15.9">37 SVO examinations</text>
<rect class="plot" x="584" y="1093" width="111" height="172"/>
<path class="tm" d="M584,1262h3M584,1199.5h3M584,1137h3M695,1262h-3M695,1199.5h-3M695,1137h-3M640,1265v-3"/>
<g class="tk"><text x="579" y="1267">0</text><text x="579" y="1204.5">5</text><text x="579" y="1142">10</text></g>
<text class="yl" transform="translate(555,1179) rotate(-90)" textLength="106">Duration (min)</text>
<line class="wh" x1="640" y1="1242" x2="640" y2="1227"/>
<line class="cap" x1="633" y1="1227" x2="647" y2="1227"/><line class="cap" x1="633" y1="1258" x2="647" y2="1258"/>
<g class="dt"><circle cx="650" cy="1100" r="2.6"/><circle cx="621" cy="1157" r="2.6"/><circle cx="632" cy="1158" r="2.6"/><circle cx="648" cy="1167" r="2.6"/><circle cx="656" cy="1197" r="2.6"/><circle cx="639" cy="1213" r="2.6"/><circle cx="643" cy="1216" r="2.6"/><circle cx="625" cy="1219" r="2.6"/><circle cx="628" cy="1224" r="2.6"/><circle cx="648" cy="1228" r="2.6"/><circle cx="651" cy="1229" r="2.6"/><circle cx="628" cy="1232" r="2.6"/><circle cx="640" cy="1232" r="2.6"/><circle cx="652" cy="1232" r="2.6"/><circle cx="620" cy="1235" r="2.6"/><circle cx="634" cy="1235" r="2.6"/><circle cx="646" cy="1235" r="2.6"/><circle cx="658" cy="1235" r="2.6"/><circle cx="625" cy="1238" r="2.6"/><circle cx="637" cy="1238" r="2.6"/><circle cx="649" cy="1238" r="2.6"/><circle cx="661" cy="1238" r="2.6"/><circle cx="617" cy="1240" r="2.6"/><circle cx="630" cy="1240" r="2.6"/><circle cx="643" cy="1240" r="2.6"/><circle cx="655" cy="1240" r="2.6"/><circle cx="622" cy="1242" r="2.6"/><circle cx="636" cy="1242" r="2.6"/><circle cx="648" cy="1242" r="2.6"/><circle cx="660" cy="1242" r="2.6"/><circle cx="615" cy="1244" r="2.6"/><circle cx="627" cy="1244" r="2.6"/><circle cx="640" cy="1244" r="2.6"/><circle cx="652" cy="1244" r="2.6"/><circle cx="620" cy="1246" r="2.6"/><circle cx="632" cy="1246" r="2.6"/><circle cx="645" cy="1246" r="2.6"/><circle cx="657" cy="1246" r="2.6"/><circle cx="664" cy="1246" r="2.6"/><circle cx="624" cy="1248" r="2.6"/><circle cx="637" cy="1248" r="2.6"/><circle cx="650" cy="1248" r="2.6"/><circle cx="662" cy="1248" r="2.6"/><circle cx="618" cy="1250" r="2.6"/><circle cx="630" cy="1250" r="2.6"/><circle cx="642" cy="1250" r="2.6"/><circle cx="654" cy="1250" r="2.6"/><circle cx="626" cy="1252" r="2.6"/><circle cx="638" cy="1252" r="2.6"/><circle cx="648" cy="1252" r="2.6"/><circle cx="659" cy="1252" r="2.6"/><circle cx="621" cy="1254" r="2.6"/><circle cx="633" cy="1254" r="2.6"/><circle cx="645" cy="1254" r="2.6"/><circle cx="656" cy="1254" r="2.6"/><circle cx="629" cy="1256" r="2.6"/><circle cx="641" cy="1256" r="2.6"/><circle cx="651" cy="1256" r="2.6"/><circle cx="625" cy="1258" r="2.6"/><circle cx="637" cy="1258" r="2.6"/><circle cx="647" cy="1258" r="2.6"/><circle cx="633" cy="1260" r="2.6"/><circle cx="644" cy="1260" r="2.6"/></g>
<rect class="bx" x="623" y="1242" width="34" height="10"/><line class="med" x1="623" y1="1248" x2="657" y2="1248"/>
<text class="nx" x="585" y="1287">n<tspan class="ns" dy="6">SVOphase</tspan><tspan dy="-6">: 120</tspan></text>
<text class="m mb" x="723" y="1140">Means</text>
<text class="m" x="723" y="1162"><tspan class="p">p</tspan><tspan class="s" dy="3">SVOphase/SVO</tspan><tspan dy="-3"> =</tspan></text>
<text class="m" x="723" y="1182"><tspan class="p">p</tspan><tspan class="s" dy="3">act/SVOphase</tspan><tspan dy="-3"> =</tspan></text>
<text class="m" x="723" y="1203"><tspan class="p">p</tspan><tspan class="s" dy="3">flex/SVOphase</tspan><tspan dy="-3"> =</tspan></text>
<text class="m" x="723" y="1245"><tspan class="p">n</tspan><tspan class="s" dy="3">SVOphase/SVO</tspan><tspan dy="-3"> =</tspan></text>
<text class="m" x="823" y="1162">10.7 ± 6.3 %</text><text class="m" x="823" y="1182">59.0 ± 22.2 %</text><text class="m" x="823" y="1203">40.3 ± 29.4 %</text><text class="m" x="823" y="1245">3.2 ± 2.5</text>
<circle class="cir" cx="1027" cy="1272" r="21"/><text class="cl" x="1027" y="1278">6a</text>
</g>

<!-- Node 9 -->
<g id="node9">
<rect class="nd2" x="1181" y="1069" width="370" height="238"/>
<text class="ttl" x="1211" y="1091" font-size="15.4">38 SVO examinations</text>
<rect class="plot" x="1233" y="1096" width="109" height="169"/>
<path class="tm" d="M1233,1259h3M1233,1217h3M1233,1175h3M1233,1133h3M1342,1259h-3M1342,1217h-3M1342,1175h-3M1342,1133h-3M1288,1265v-3"/>
<g class="tk"><text x="1228" y="1264">0</text><text x="1228" y="1222">5</text><text x="1228" y="1180">10</text><text x="1228" y="1138">15</text></g>
<text class="yl" transform="translate(1204,1178) rotate(-90)" textLength="108">Duration (min)</text>
<line class="wh" x1="1288" y1="1223" x2="1288" y2="1207"/><line class="wh" x1="1288" y1="1241" x2="1288" y2="1257"/>
<line class="cap" x1="1282" y1="1207" x2="1294" y2="1207"/><line class="cap" x1="1282" y1="1257" x2="1294" y2="1257"/>
<g class="dt"><circle cx="1281" cy="1102" r="2.6"/><circle cx="1269" cy="1176" r="2.6"/><circle cx="1285" cy="1182" r="2.6"/><circle cx="1289" cy="1207" r="2.6"/><circle cx="1293" cy="1212" r="2.6"/><circle cx="1282" cy="1213" r="2.6"/><circle cx="1296" cy="1216" r="2.6"/><circle cx="1286" cy="1218" r="2.6"/><circle cx="1276" cy="1219" r="2.6"/><circle cx="1290" cy="1221" r="2.6"/><circle cx="1300" cy="1223" r="2.6"/><circle cx="1270" cy="1225" r="2.6"/><circle cx="1284" cy="1226" r="2.6"/><circle cx="1294" cy="1228" r="2.6"/><circle cx="1307" cy="1228" r="2.6"/><circle cx="1279" cy="1230" r="2.6"/><circle cx="1268" cy="1230" r="2.6"/><circle cx="1302" cy="1231" r="2.6"/><circle cx="1287" cy="1232" r="2.6"/><circle cx="1274" cy="1234" r="2.6"/><circle cx="1296" cy="1235" r="2.6"/><circle cx="1281" cy="1236" r="2.6"/><circle cx="1290" cy="1238" r="2.6"/><circle cx="1270" cy="1239" r="2.6"/><circle cx="1300" cy="1240" r="2.6"/><circle cx="1306" cy="1240" r="2.6"/><circle cx="1284" cy="1241" r="2.6"/><circle cx="1276" cy="1243" r="2.6"/><circle cx="1293" cy="1244" r="2.6"/><circle cx="1298" cy="1245" r="2.6"/><circle cx="1288" cy="1246" r="2.6"/><circle cx="1278" cy="1247" r="2.6"/><circle cx="1266" cy="1248" r="2.6"/><circle cx="1282" cy="1250" r="2.6"/><circle cx="1296" cy="1250" r="2.6"/><circle cx="1300" cy="1253" r="2.6"/><circle cx="1273" cy="1254" r="2.6"/><circle cx="1290" cy="1256" r="2.6"/><circle cx="1284" cy="1258" r="2.6"/></g>
<rect class="bx" x="1272" y="1223" width="32" height="18"/><line class="med" x1="1272" y1="1236" x2="1304" y2="1236"/>
<text class="nx" x="1240" y="1286">n<tspan class="ns" dy="6">SVOphase</tspan><tspan dy="-6">: 44</tspan></text>
<text class="m mb" x="1355" y="1140">Means</text>
<text class="m" x="1355" y="1161"><tspan class="p">p</tspan><tspan class="s" dy="3">SVOphase/SVO</tspan><tspan dy="-3"> =11.1 ± 6.9 %</tspan></text>
<text class="m" x="1355" y="1182"><tspan class="p">p</tspan><tspan class="s" dy="3">act/SVOphase</tspan><tspan dy="-3"> = 64.4 ± 19.4 %</tspan></text>
<text class="m" x="1355" y="1203"><tspan class="p">p</tspan><tspan class="s" dy="3">flex/SVOphase</tspan><tspan dy="-3"> = 32.0 ± 23.0 %</tspan></text>
<text class="m" x="1355" y="1246"><tspan class="p">n</tspan><tspan class="s" dy="3">SVOphase/SVO</tspan><tspan dy="-3"> =1.2 ± 0.4</tspan></text>
<circle class="cir" cx="1514" cy="1267" r="21"/><text class="cl" x="1514" y="1273">9</text>
</g>

<!-- Node 10a -->
<g id="node10a">
<rect class="nd1" x="1656" y="1080" width="445" height="216"/>
<text class="ttl" x="1727" y="1097" font-size="14.9">30 Lab sessions</text>
<rect class="plot" x="1732" y="1102" width="104" height="161"/>
<path class="tm" d="M1732,1263h3M1732,1216h3M1732,1169h3M1732,1122h3M1836,1263h-3M1836,1216h-3M1836,1169h-3M1836,1122h-3M1785,1263v-3"/>
<g class="tk"><text x="1727" y="1268">0</text><text x="1727" y="1221">5</text><text x="1727" y="1174">10</text><text x="1727" y="1127">15</text></g>
<text class="yl" transform="translate(1706,1182) rotate(-90)" textLength="99">Duration (min)</text>
<line class="wh" x1="1785" y1="1168" x2="1785" y2="1108"/><line class="wh" x1="1785" y1="1247" x2="1785" y2="1256"/>
<line class="cap" x1="1779" y1="1108" x2="1791" y2="1108"/><line class="cap" x1="1779" y1="1256" x2="1791" y2="1256"/>
<rect class="bx" x="1769" y="1168" width="31" height="79"/><line class="med" x1="1769" y1="1228" x2="1800" y2="1228"/>
<g class="dt"><circle cx="1769" cy="1108" r="2.6"/><circle cx="1784" cy="1117" r="2.6"/><circle cx="1783" cy="1122" r="2.6"/><circle cx="1786" cy="1126" r="2.6"/><circle cx="1779" cy="1150" r="2.6"/><circle cx="1788" cy="1154" r="2.6"/><circle cx="1795" cy="1158" r="2.6"/><circle cx="1775" cy="1160" r="2.6"/><circle cx="1782" cy="1163" r="2.6"/><circle cx="1790" cy="1165" r="2.6"/><circle cx="1796" cy="1172" r="2.6"/><circle cx="1789" cy="1172" r="2.6"/><circle cx="1778" cy="1176" r="2.6"/><circle cx="1787" cy="1180" r="2.6"/><circle cx="1776" cy="1186" r="2.6"/><circle cx="1783" cy="1188" r="2.6"/><circle cx="1791" cy="1193" r="2.6"/><circle cx="1798" cy="1196" r="2.6"/><circle cx="1780" cy="1197" r="2.6"/><circle cx="1786" cy="1202" r="2.6"/><circle cx="1792" cy="1205" r="2.6"/><circle cx="1776" cy="1207" r="2.6"/><circle cx="1795" cy="1210" r="2.6"/><circle cx="1783" cy="1214" r="2.6"/><circle cx="1770" cy="1217" r="2.6"/><circle cx="1789" cy="1219" r="2.6"/><circle cx="1773" cy="1222" r="2.6"/><circle cx="1781" cy="1225" r="2.6"/><circle cx="1797" cy="1228" r="2.6"/><circle cx="1786" cy="1230" r="2.6"/><circle cx="1782" cy="1231" r="2.6"/><circle cx="1768" cy="1232" r="2.6"/><circle cx="1774" cy="1233" r="2.6"/><circle cx="1792" cy="1236" r="2.6"/><circle cx="1779" cy="1238" r="2.6"/><circle cx="1785" cy="1240" r="2.6"/><circle cx="1801" cy="1240" r="2.6"/><circle cx="1770" cy="1242" r="2.6"/><circle cx="1797" cy="1243" r="2.6"/><circle cx="1776" cy="1245" r="2.6"/><circle cx="1788" cy="1246" r="2.6"/><circle cx="1781" cy="1248" r="2.6"/><circle cx="1793" cy="1249" r="2.6"/><circle cx="1772" cy="1250" r="2.6"/><circle cx="1784" cy="1251" r="2.6"/><circle cx="1790" cy="1252" r="2.6"/><circle cx="1777" cy="1253" r="2.6"/><circle cx="1786" cy="1254" r="2.6"/><circle cx="1780" cy="1255" r="2.6"/><circle cx="1794" cy="1255" r="2.6"/><circle cx="1775" cy="1256" r="2.6"/><circle cx="1783" cy="1257" r="2.6"/></g>
<text class="nx" x="1743" y="1284">n<tspan class="ns" dy="6">labphase</tspan><tspan dy="-6">: 52</tspan></text>
<text class="m mb" x="1853" y="1137">Means:</text>
<text class="m" x="1853" y="1157"><tspan class="p">p</tspan><tspan class="s" dy="3">labphase/lab</tspan><tspan dy="-3"> =</tspan></text>
<text class="m" x="1853" y="1179"><tspan class="p">p</tspan><tspan class="s" dy="3">act/labphase</tspan><tspan dy="-3"> =</tspan></text>
<text class="m" x="1853" y="1199"><tspan class="p">p</tspan><tspan class="s" dy="3">flex/labphase</tspan><tspan dy="-3"> =</tspan></text>
<text class="m" x="1853" y="1241"><tspan class="p">n</tspan><tspan class="s" dy="3">labphase/lab</tspan><tspan dy="-3"> =</tspan></text>
<text class="m" x="1945" y="1157">15.9 ± 11.5 %</text><text class="m" x="1945" y="1179">70.3 ± 29.8 %</text><text class="m" x="1945" y="1199">8.7 ± 14.2 %</text><text class="m" x="1945" y="1241">1.7 ± 1.2</text>
<circle class="cir" cx="2058" cy="1257" r="21"/><text class="cl" x="2058" y="1263">10a</text>
</g>

<text x="0" y="0" transform="translate(1992,1302) rotate(90)" font-family="Lato, 'Liberation Sans', sans-serif" font-size="15" fill="#333">21</text>

<!-- Connectors -->
<g id="connectors">
<path class="conn" d="M589,144H635" marker-end="url(#ah)"/>
<path class="conn" d="M1026,144H1063" marker-end="url(#ah)"/>
<path class="conn" d="M1675,144H1723" marker-end="url(#ah)"/>
<path class="conn" d="M2140,144H2163"/>
<path class="conn" d="M299,239V303H440V329" marker-end="url(#ah)"/>
<path class="conn" d="M1374,280V296H1967V320" marker-end="url(#ah)"/>
<path class="conn" d="M1778,389H1016" marker-end="url(#ah)"/>
<path class="conn" d="M1778,433H1056V630H1034" marker-end="url(#ah)"/>
<path class="conn" d="M1778,472H1474V552H1458" marker-end="url(#ah)"/>
<path class="conn" d="M1967,533V794H1459" marker-end="url(#ah)"/>
<path class="conn" d="M1260,655V677" marker-end="url(#ah)"/>
<path class="conn" d="M836,732V789" marker-end="url(#ah)"/>
<path class="conn" d="M1075,794H1028V765H598V830H580" marker-end="url(#ah)"/>
<path class="conn" d="M1260,899V911H1034" marker-end="url(#ah)"/>
<path class="conn" d="M250,473H93V585" marker-end="url(#ah)"/>
<path class="conn" d="M1864,656H1916V827" marker-end="url(#ah)"/>
<path class="conn" d="M377,981V1032H633V1052" marker-end="url(#ah)"/>
<path class="conn" d="M837,1022V1033H792V1052" marker-end="url(#ah)"/>
<path class="conn" d="M1065,1187H1169" marker-end="url(#ah)"/>
<path class="conn" d="M1551,1187H1643" marker-end="url(#ah)"/>
<path class="conn" d="M1366,1069V1027H1677V774" marker-end="url(#ah)"/>
<path class="conn" d="M1366,1307V1362H93V894" marker-end="url(#ah)"/>
<path class="conn" d="M2163,1346H713V1323" marker-end="url(#ah)"/>
</g>
</svg>
